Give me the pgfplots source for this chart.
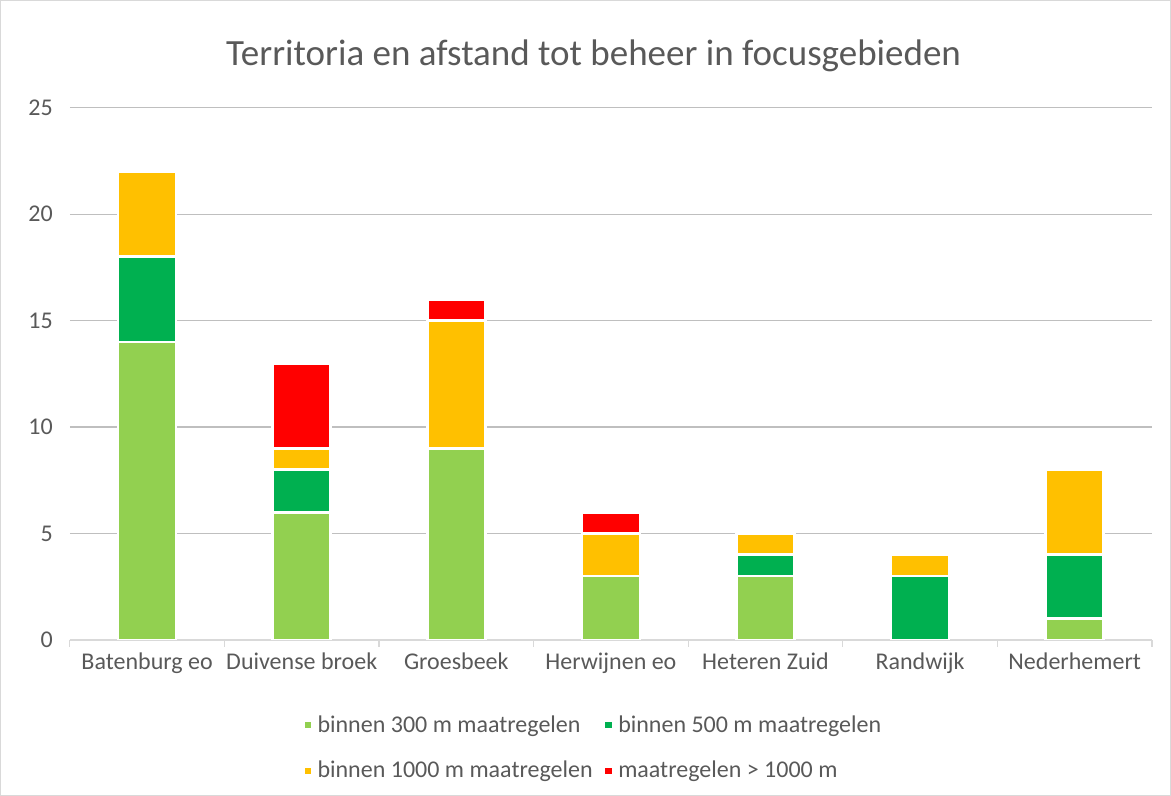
\documentclass[border=0pt]{standalone}
\usepackage{pgfplots}
\pgfplotsset{compat=1.18}
\usepackage{fontspec}
\setmainfont{Carlito}
\definecolor{txt}{HTML}{595959}
\definecolor{grid}{HTML}{D9D9D9}
\definecolor{g300}{HTML}{92D050}
\definecolor{g500}{HTML}{00B050}
\definecolor{y1000}{HTML}{FFC000}
\definecolor{r1000}{HTML}{FF0000}

\begin{document}
\begin{tikzpicture}
% chart area frame (1px = 0.5pt, plot area lower left at px 70,640)
\draw[grid, line width=0.6pt] (-34.6pt,-77.6pt) rectangle (550.2pt,319.6pt);
\begin{axis}[
    at={(0,0)}, anchor=south west,
    scale only axis,
    width=541pt, height=266pt,
    ybar stacked,
    bar width=29pt,
    xmin=-0.5, xmax=6.5,
    ymin=0, ymax=25,
    ytick={0,5,...,25},
    xtick=data,
    xticklabels={Batenburg eo, Duivense broek, Groesbeek, Herwijnen eo, Heteren Zuid, Randwijk, Nederhemert},
    extra x ticks={-0.5,0.5,...,6.5},
    extra x tick labels={},
    extra x tick style={major tick length=3.5pt, tick align=outside},
    major tick length=0pt,
    xmajorgrids=false,
    ymajorgrids=true,
    axis x line*=bottom,
    axis y line*=left,
    x axis line style={grid, line width=0.6pt, -},
    y axis line style={draw=none},
    xtick style={grid, line width=0.6pt},
    ytick style={draw=none},
    grid style={grid, line width=0.6pt},
    tick label style={font=\fontsize{12}{14}\selectfont, text=txt},
    yticklabel style={xshift=-5pt},
    xticklabel style={yshift=-3pt},
    /pgf/number format/assume math mode=true,
    title={Territoria en afstand tot beheer in focusgebieden},
    title style={font=\fontsize{18.5}{22}\selectfont, text=txt, at={(0.484,1)}, yshift=15pt, anchor=base},
    legend columns=2,
    legend cell align=left,
    legend style={at={(0.484,-0.126)}, anchor=north, draw=none, fill=none,
        font=\fontsize{12}{14}\selectfont, text=txt,
        /tikz/every even column/.append style={column sep=3pt},
        row sep=9pt},
    legend image code/.code={\fill[#1] (0pt,-2.25pt) rectangle (4.5pt,2.25pt);},
    every axis plot/.append style={draw=white, line width=1.3pt},
]
\addplot[fill=g300] coordinates {(0,14) (1,6) (2,9) (3,3) (4,3) (5,0) (6,1)};
\addplot[fill=g500] coordinates {(0,4) (1,2) (2,0) (3,0) (4,1) (5,3) (6,3)};
\addplot[fill=y1000] coordinates {(0,4) (1,1) (2,6) (3,2) (4,1) (5,1) (6,4)};
\addplot[fill=r1000] coordinates {(0,0) (1,4) (2,1) (3,1) (4,0) (5,0) (6,0)};
\legend{binnen 300 m maatregelen, binnen 500 m maatregelen, binnen 1000 m maatregelen, maatregelen > 1000 m}
\end{axis}
\end{tikzpicture}
\end{document}
